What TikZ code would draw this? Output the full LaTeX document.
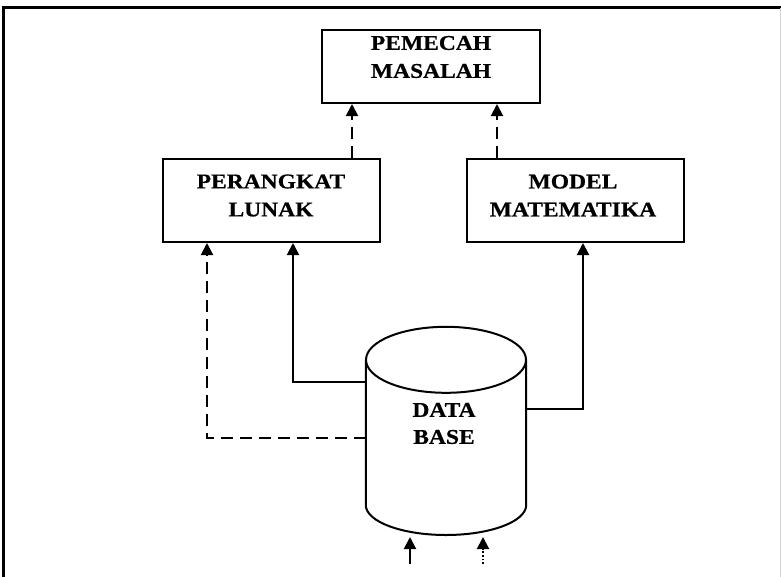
\documentclass[tikz,border=0pt]{standalone}
\usepackage{fontspec}
\setmainfont{Liberation Serif}[FakeStretch=1.12, BoldFeatures={FakeBold=0.6}]
\usetikzlibrary{arrows.meta}
\begin{document}
\begin{tikzpicture}[x=1pt,y=1pt,yscale=-1,
  box/.style={draw, line width=2pt, minimum width=217pt, minimum height=83pt, inner sep=0pt},
  lbl/.style={font=\fontsize{21}{28}\selectfont\bfseries, align=center, inner sep=0pt},
  conn/.style={line width=2pt},
  arr/.style={conn, -{Triangle[width=12pt,length=12pt]}},
  dasharr/.style={arr, dash pattern=on 12pt off 7pt},
  dotarr/.style={arr, dash pattern=on 1.8pt off 1.8pt}]
\useasboundingbox (0,0) rectangle (781,576);

% outer frame
\draw[line width=2.2pt] (3.5,600) -- (3.5,7.5) -- (790,7.5);
\draw[line width=1pt, gray!35] (780,7.5) -- (780,600);

% boxes
\node[box, minimum width=218pt, minimum height=73pt] (ps) at (431,66.5) {};
\node[box] (pl) at (271.5,200.5) {};
\node[box] (mm) at (575.5,200.5) {};
\node[lbl] (pst) at (431,57) {PEMECAH\\MASALAH};
\node[lbl] (plt) at (271,195.5) {PERANGKAT\\LUNAK};
\node[lbl] (mmt) at (573,195.5) {MODEL\\MATEMATIKA};

% database cylinder
\node[minimum width=160pt, minimum height=145pt, inner sep=0pt] (db) at (446,432.5) {};
\draw[conn] (db.north west) -- (db.south west)
  .. controls (366,521.6) and (401.8,535) .. (446,535)
  .. controls (490.2,535) and (526,521.6) .. (db.south east)
  -- (db.north east);
\draw[conn] (db.north) ellipse [x radius=80pt, y radius=33pt];
\node[lbl, font=\fontsize{21}{27}\selectfont\bfseries] (dbt) at (444,423.5) {DATA\\BASE};

% connectors
\coordinate (xa) at (352,0);
\coordinate (xb) at (497,0);
\coordinate (xc) at (293,0);
\coordinate (xd) at (207,0);
\coordinate (xe) at (583,0);
\coordinate (ya) at (0,382);
\coordinate (yb) at (0,438);
\coordinate (yc) at (0,409);
\draw[dasharr] (pl.north -| xa) -- (ps.south -| xa);
\draw[dasharr] (mm.north -| xb) -- (ps.south -| xb);
\draw[arr] (db.west |- ya) -| (pl.south -| xc);
\draw[dasharr] (db.west |- yb) -| (pl.south -| xd);
\draw[arr] (db.east |- yc) -| (mm.south -| xe);

% incoming arrows below the database
\coordinate (in1) at (410,564);
\coordinate (in1t) at (410,537);
\coordinate (in2) at (483,564);
\coordinate (in2t) at (483,537);
\draw[arr] (in1) -- (in1t);
\draw[dotarr] (in2) -- (in2t);
\end{tikzpicture}
\end{document}
